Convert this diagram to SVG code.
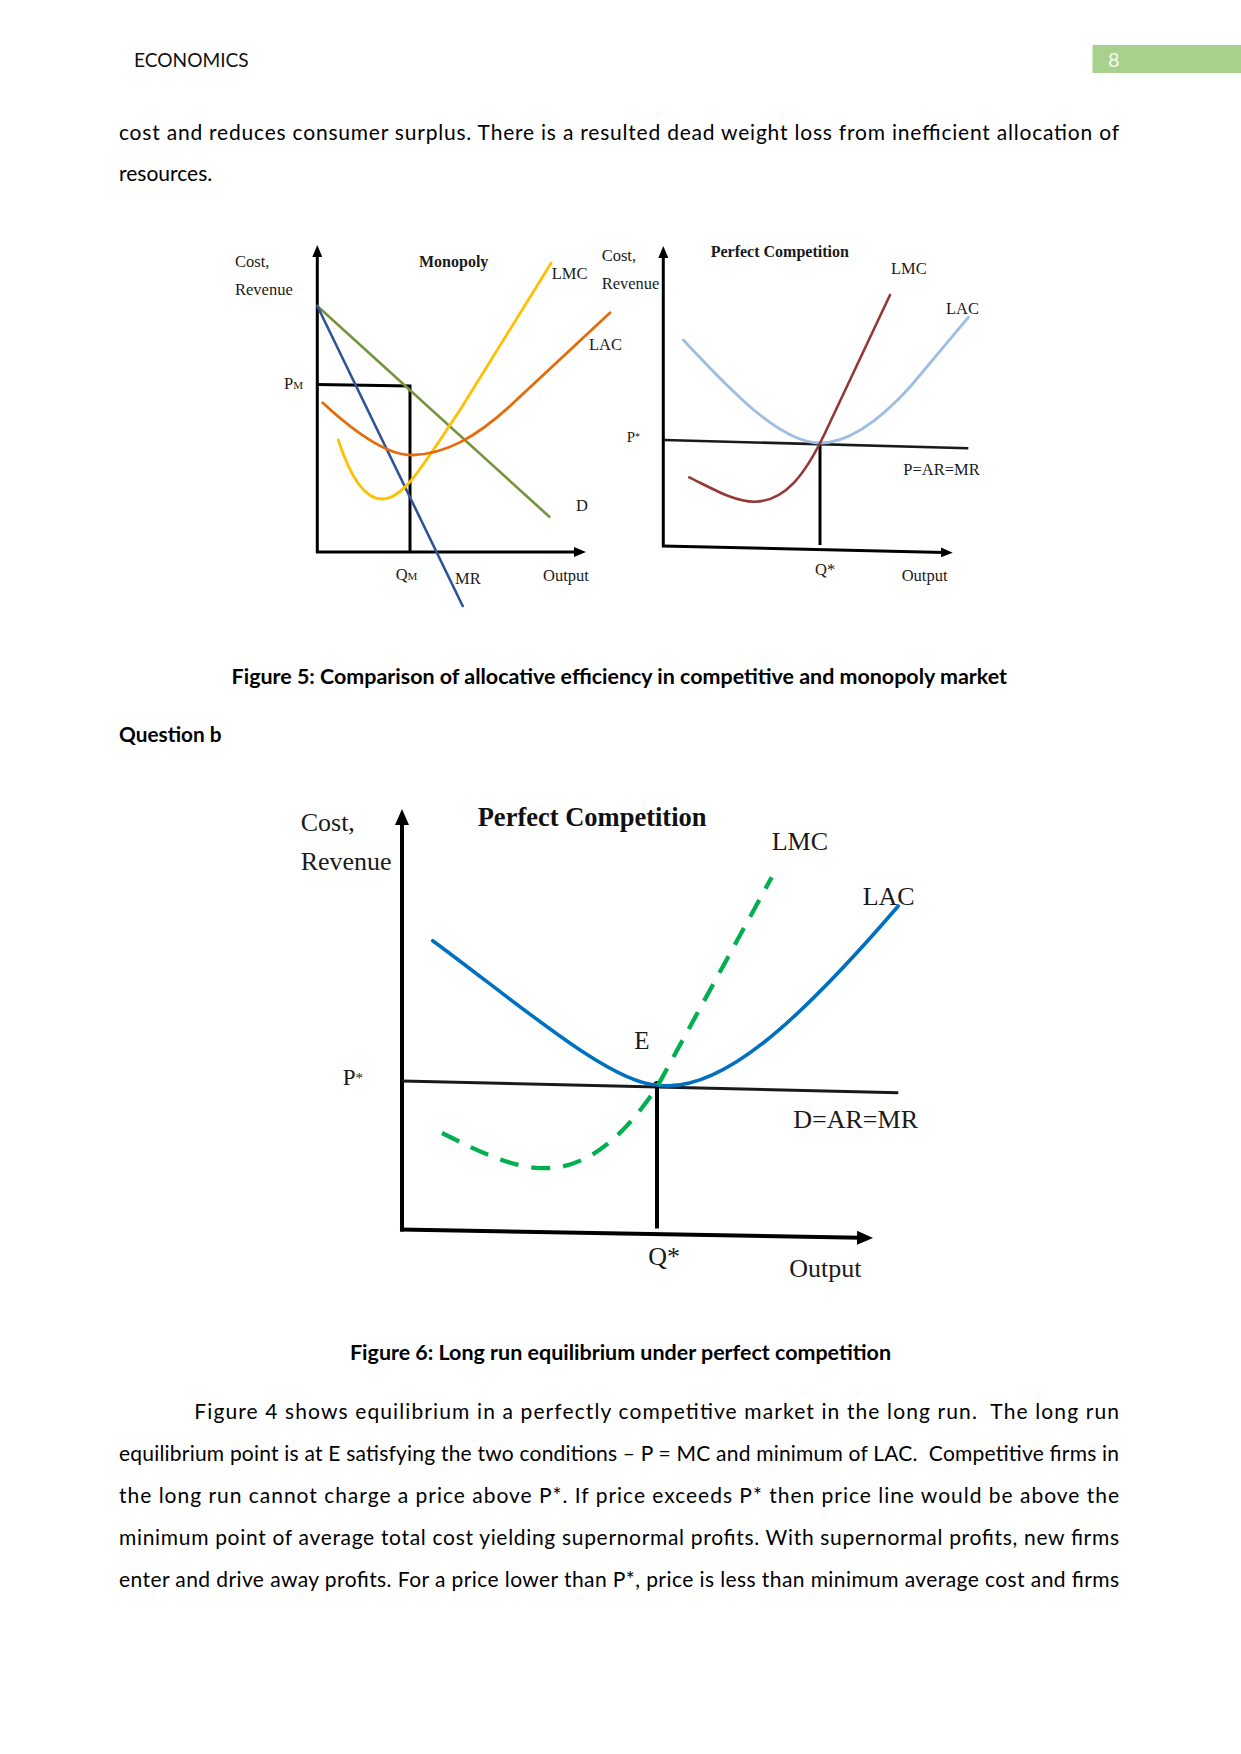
<svg xmlns="http://www.w3.org/2000/svg" width="1241" height="1754" viewBox="0 0 1241 1754">
<style>
.body{font-family:Lato,"Open Sans","Liberation Sans",sans-serif;font-size:21px;fill:#000}
.pre{white-space:pre}
.bold{font-family:Lato,"Open Sans","Liberation Sans",sans-serif;font-size:21px;font-weight:bold;fill:#000}
.t5{font-family:"Liberation Serif","Times New Roman",serif;font-size:16.5px;fill:#1a1a1a}
.t5b{font-family:"Liberation Serif","Times New Roman",serif;font-size:16px;font-weight:bold;fill:#1a1a1a}
.t6{font-family:"Liberation Serif","Times New Roman",serif;font-size:26px;fill:#1a1a1a}
.t6b{font-family:"Liberation Serif","Times New Roman",serif;font-size:26.5px;font-weight:bold;fill:#111}
.ax5{stroke:#000;stroke-width:3;fill:none}
.ax6{stroke:#000;stroke-width:4;fill:none}
.crv{fill:none;stroke-linecap:round;stroke-linejoin:round}
</style>
<defs>
<marker id="arrS" viewBox="0 0 12 10" refX="4" refY="5" markerWidth="12" markerHeight="10" markerUnits="userSpaceOnUse" orient="auto"><path d="M0,0 L12,5 L0,10 z" fill="#000"/></marker>
<marker id="arrL" viewBox="0 0 16 14" refX="4" refY="7" markerWidth="16" markerHeight="14" markerUnits="userSpaceOnUse" orient="auto"><path d="M0,0 L16,7 L0,14 z" fill="#000"/></marker>
</defs>
<rect width="1241" height="1754" fill="#fff"/>

<g id="header">
<text x="134" y="66.5" class="body" style="font-size:20px;fill:#111" textLength="114.7" lengthAdjust="spacingAndGlyphs">ECONOMICS</text>
<rect x="1092.5" y="45" width="148.5" height="28" fill="#a9d18e"/>
<text x="1108" y="66.5" style="font-family:Lato,'Liberation Sans',sans-serif;font-size:20px;fill:#f4f9f0">8</text>
</g>

<g id="intro-text">
<text x="119" y="139.5" class="body" textLength="1000" lengthAdjust="spacing">cost and reduces consumer surplus. There is a resulted dead weight loss from inefficient allocation of</text>
<text x="119" y="181.3" class="body">resources.</text>
</g>

<g id="figure5">
<g id="monopoly-panel">
<g id="mono-axes">
<line x1="317.3" y1="553" x2="317.3" y2="253" class="ax5" marker-end="url(#arrS)"/>
<line x1="316" y1="552" x2="578" y2="552" class="ax5" marker-end="url(#arrS)"/>
<polyline points="317.3,384.5 410,386 410,552" class="ax5"/>
</g>
<g id="mono-curves">
<line x1="317.3" y1="306" x2="549.3" y2="516.7" class="crv" stroke="#77933c" stroke-width="2.6"/>
<line x1="317.3" y1="306" x2="462.7" y2="606" class="crv" stroke="#2f5597" stroke-width="2.6"/>
<path d="M338.3,440 C348,470 362,500 383,499 C405,498 425,462 460,410 L551,263.3" class="crv" stroke="#ffc000" stroke-width="2.8"/>
<path d="M322.7,402.7 C350,428 385,456 413,455 C445,454 475,438 510,406 L610,312.7" class="crv" stroke="#e46c0a" stroke-width="2.8"/>
</g>
<g id="mono-labels">
<text x="235" y="267" class="t5">Cost,</text>
<text x="235" y="295" class="t5">Revenue</text>
<text x="419" y="267" class="t5b">Monopoly</text>
<text x="551.7" y="279.3" class="t5">LMC</text>
<text x="589" y="350" class="t5">LAC</text>
<text x="284" y="388.5" class="t5">P<tspan style="font-size:11px">M</tspan></text>
<text x="576" y="511" class="t5">D</text>
<text x="395.7" y="580" class="t5">Q<tspan style="font-size:11px">M</tspan></text>
<text x="455" y="584" class="t5">MR</text>
<text x="543" y="580.7" class="t5">Output</text>
</g>
</g>

<g id="competition-panel">
<g id="comp-axes">
<line x1="663.3" y1="547" x2="663.3" y2="254" class="ax5" marker-end="url(#arrS)"/>
<line x1="662" y1="546" x2="944.7" y2="552.5" class="ax5" marker-end="url(#arrS)"/>
<line x1="664" y1="440" x2="968.3" y2="448.3" stroke="#1a1a1a" stroke-width="2.6"/>
<line x1="820" y1="443" x2="820" y2="545" class="ax5"/>
</g>
<g id="comp-curves">
<path d="M683.3,340 C730,390 780,443 820,443 C850,443 880,420 910,387 L968.3,317.3" class="crv" stroke="#9dbde3" stroke-width="2.8"/>
<path d="M689.3,477.3 C715,490 735,502 755,501.7 C785,501 805,475 825,433 L890,295" class="crv" stroke="#953735" stroke-width="2.6"/>
</g>
<g id="comp-labels">
<text x="601.7" y="260.7" class="t5">Cost,</text>
<text x="601.7" y="289.3" class="t5">Revenue</text>
<text x="710.7" y="257.3" class="t5b">Perfect Competition</text>
<text x="891" y="274.3" class="t5">LMC</text>
<text x="946" y="314" class="t5">LAC</text>
<text x="626.7" y="441.7" class="t5" style="font-size:15px">P<tspan style="font-size:10px" dy="-2">*</tspan></text>
<text x="903.3" y="475" class="t5">P=AR=MR</text>
<text x="815" y="575" class="t5">Q*</text>
<text x="901.7" y="580.7" class="t5">Output</text>
</g>
</g>
</g>

<g id="captions-and-headings">
<text x="231.6" y="684" class="bold" style="font-size:20.5px" textLength="775.4" lengthAdjust="spacingAndGlyphs">Figure 5: Comparison of allocative efficiency in competitive and monopoly market</text>
<text x="119" y="742" class="bold" textLength="102.6" lengthAdjust="spacingAndGlyphs">Question b</text>
<text x="350" y="1360" class="bold" style="font-size:20.5px" textLength="541" lengthAdjust="spacingAndGlyphs">Figure 6: Long run equilibrium under perfect competition</text>
</g>

<g id="figure6">
<g id="f6-axes">
<line x1="402" y1="1231.5" x2="402" y2="821" class="ax6" marker-end="url(#arrL)"/>
<line x1="400" y1="1229.5" x2="861" y2="1237.8" class="ax6" marker-end="url(#arrL)"/>
<line x1="402" y1="1081" x2="898.3" y2="1092.7" stroke="#1a1a1a" stroke-width="3"/>
<line x1="657" y1="1084" x2="657" y2="1228.5" class="ax6"/>
<circle cx="657" cy="1084.5" r="3.5" fill="#000"/>
</g>
<g id="f6-curves">
<path d="M432.7,940.7 C520,1005 610,1083 657,1085 C720,1095 800,1020 898.3,906" class="crv" stroke="#0070c0" stroke-width="3.6"/>
<path d="M442,1133 C480,1152 515,1170 550,1168 C590,1166 625,1135 657,1087 L771.7,877.3" fill="none" stroke="#00b050" stroke-width="4.3" stroke-dasharray="19 13"/>
</g>
<g id="f6-labels">
<text x="300.7" y="830.7" class="t6">Cost,</text>
<text x="300.7" y="870" class="t6">Revenue</text>
<text x="477.7" y="826" class="t6b">Perfect Competition</text>
<text x="771.7" y="850" class="t6">LMC</text>
<text x="862.7" y="905" class="t6">LAC</text>
<text x="634.3" y="1049.3" class="t6" style="font-size:25px">E</text>
<text x="342.7" y="1085" class="t6" style="font-size:23px">P<tspan style="font-size:15px" dy="-2">*</tspan></text>
<text x="793.3" y="1128.3" class="t6">D=AR=MR</text>
<text x="648.3" y="1265" class="t6">Q*</text>
<text x="789.3" y="1276.7" class="t6">Output</text>
</g>
</g>

<g id="paragraph">
<text x="194.3" y="1419.3" class="body pre" textLength="924.7" lengthAdjust="spacing">Figure 4 shows equilibrium in a perfectly competitive market in the long run.  The long run</text>
<text x="119" y="1461" class="body pre" textLength="1000" lengthAdjust="spacing">equilibrium point is at E satisfying the two conditions – P = MC and minimum of LAC.  Competitive firms in</text>
<text x="119" y="1503.2" class="body" textLength="1000" lengthAdjust="spacing">the long run cannot charge a price above P*. If price exceeds P* then price line would be above the</text>
<text x="119" y="1545" class="body" textLength="1000" lengthAdjust="spacing">minimum point of average total cost yielding supernormal profits. With supernormal profits, new firms</text>
<text x="119" y="1586.7" class="body" textLength="1000" lengthAdjust="spacing">enter and drive away profits. For a price lower than P*, price is less than minimum average cost and firms</text>
</g>
</svg>
